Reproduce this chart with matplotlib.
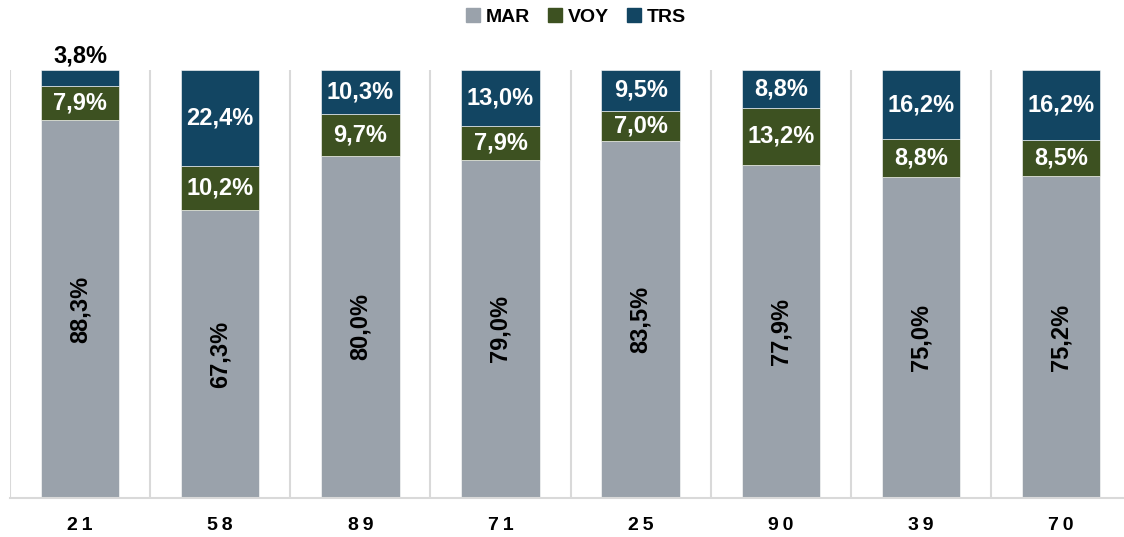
import numpy as np
import matplotlib
matplotlib.use("Agg")
import matplotlib.pyplot as plt
from matplotlib.patches import Patch

plt.rcParams['font.family'] = ['Liberation Sans', 'DejaVu Sans']

# data
cats = ['21', '58', '89', '71', '25', '90', '39', '70']
mar = [88.3, 67.3, 80.0, 79.0, 83.5, 77.9, 75.0, 75.2]
voy = [7.9, 10.2, 9.7, 7.9, 7.0, 13.2, 8.8, 8.5]
trs = [3.8, 22.4, 10.3, 13.0, 9.5, 8.8, 16.2, 16.2]

c_mar = '#9aa2ab'
c_voy = '#3d5121'
c_trs = '#124562'

W, H = 1124, 537
fig = plt.figure(figsize=(W / 100, H / 100), dpi=100)
cat_w = 140.14  # pixels per category
ax = fig.add_axes([10 / W, 39 / H, 1114 / W, 428 / H])

x = np.arange(len(cats))
mar = np.array(mar); voy = np.array(voy); trs = np.array(trs)
bw = 0.56
ax.bar(x, mar, bw, color=c_mar, edgecolor='white', linewidth=0.4)
ax.bar(x, voy, bw, bottom=mar, color=c_voy, edgecolor='white', linewidth=0.4)
ax.bar(x, trs, bw, bottom=mar + voy, color=c_trs, edgecolor='white', linewidth=0.4)

ax.set_xlim(-0.5, -0.5 + 1114 / cat_w)
ax.set_ylim(0, 100)

def fmt(v):
    return f"{v:.1f}%".replace('.', ',')

for i in range(len(cats)):
    ax.text(x[i], mar[i] / 2, fmt(mar[i]), rotation=90, ha='center', va='center',
            fontsize=17, fontweight='bold', color='black')
    ax.text(x[i], mar[i] + voy[i] / 2, fmt(voy[i]), ha='center', va='center',
            fontsize=17, fontweight='bold', color='white')
    if trs[i] < 5:
        ax.text(x[i], mar[i] + voy[i] + trs[i] + 0.6, fmt(trs[i]), ha='center', va='bottom',
                fontsize=17, fontweight='bold', color='black')
    else:
        ax.text(x[i], mar[i] + voy[i] + trs[i] / 2, fmt(trs[i]), ha='center', va='center',
                fontsize=17, fontweight='bold', color='white')

# separators between categories
for b in np.arange(-0.5, len(cats), 1.0):
    ax.axvline(b, color='#d9d9d9', lw=1.5, zorder=0)

for s in ['top', 'right', 'left']:
    ax.spines[s].set_visible(False)
ax.spines['bottom'].set_color('#d9d9d9')
ax.spines['bottom'].set_linewidth(1.5)
ax.set_yticks([])
ax.set_xticks(x)
ax.set_xticklabels(['\u2009'.join(c) for c in cats], fontsize=14, fontweight='bold')
ax.tick_params(axis='x', length=0, pad=14)

handles = [Patch(color=c_mar, label='MAR'), Patch(color=c_voy, label='VOY'),
           Patch(color=c_trs, label='TRS')]
fig.legend(handles=handles, loc='center', bbox_to_anchor=(576 / W, 1 - 17 / H), ncol=3,
           frameon=False, prop={'weight': 'bold', 'size': 14}, handlelength=0.75,
           handleheight=0.75, handletextpad=0.3, columnspacing=0.9)

fig.savefig('out.png', dpi=100)
